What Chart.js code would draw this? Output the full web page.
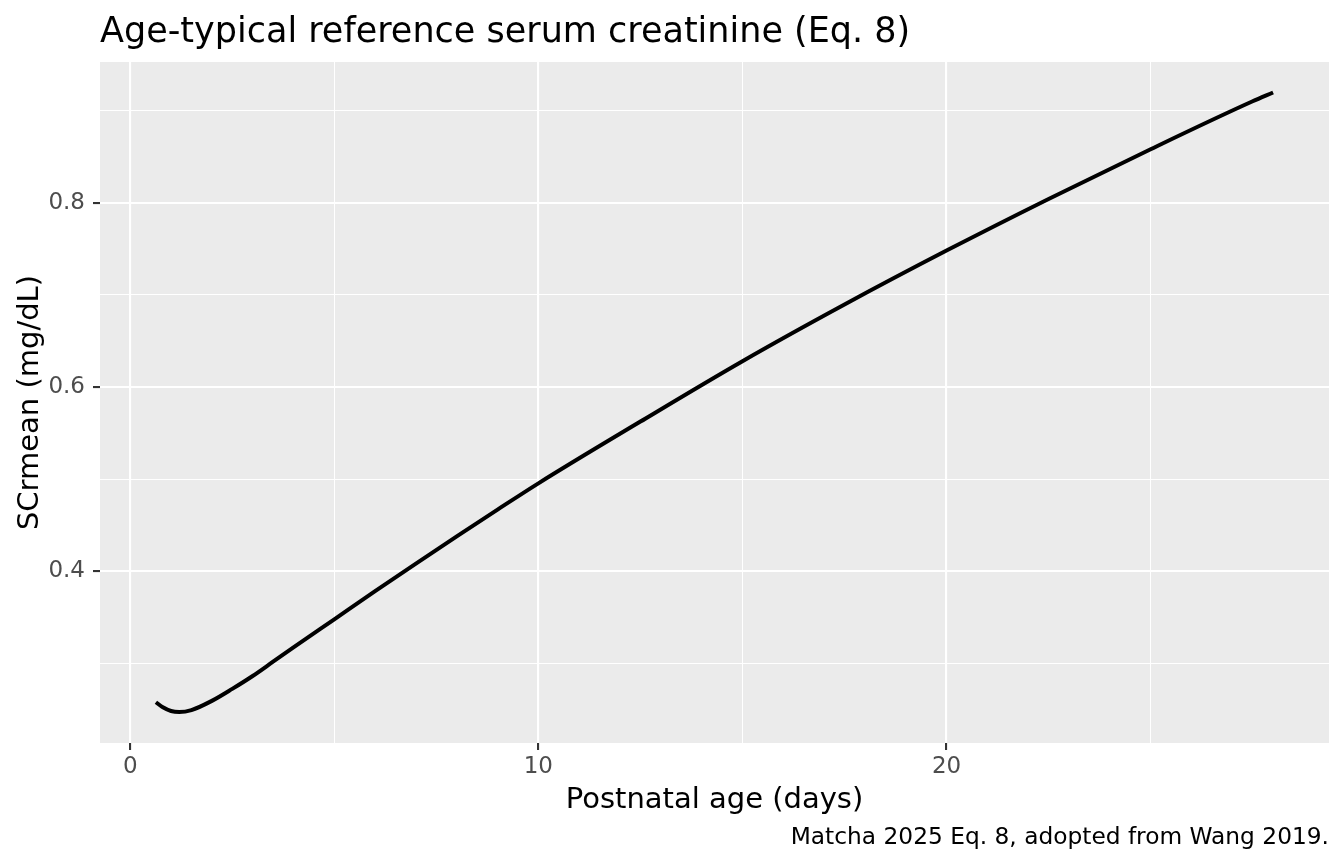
<!DOCTYPE html>
<html>
<head>
<meta charset="utf-8">
<title>Age-typical reference serum creatinine</title>
<script src="https://cdn.jsdelivr.net/npm/chart.js@4.4.1/dist/chart.umd.min.js"></script>
<style>
  html, body { margin: 0; padding: 0; background: #FFFFFF; }
  #wrap { width: 1344px; height: 864px; }
</style>
</head>
<body>
<div id="wrap"><canvas id="scrChart" width="1344" height="864"></canvas></div>
<script>
// values
var ageDays = [0.63, 0.8, 1.0, 1.2, 1.5, 2, 2.5, 3, 3.5, 4, 5, 6, 7, 8, 9, 10, 12.5, 15, 17.5, 20, 22.5, 25, 27.5, 28];
var scrMean = [0.258, 0.2525, 0.2485, 0.2474, 0.2495, 0.2595, 0.2725, 0.2865, 0.302, 0.3175, 0.348, 0.3785, 0.4085, 0.438, 0.467, 0.4955, 0.5625, 0.628, 0.6895, 0.748, 0.804, 0.858, 0.910, 0.9195];

var xTickValues = [0, 5, 10, 15, 20, 25];
var xTickLabels = ['0', '', '10', '', '20', ''];
var yTickValues = [0.3, 0.4, 0.5, 0.6, 0.7, 0.8, 0.9];
var yTickLabels = ['', '0.4', '', '0.6', '', '0.8', ''];
var xLimits = [-0.74, 29.37];
var yLimits = [0.2138, 0.9526];

var titleText = 'Age-typical reference serum creatinine (Eq. 8)';
var xTitle = 'Postnatal age (days)';
var yTitle = 'SCrmean (mg/dL)';
var captionText = 'Matcha 2025 Eq. 8, adopted from Wang 2019.';

var FONT = '"DejaVu Sans", "Liberation Sans", sans-serif';

// grey panel behind the grid, ggplot style
var panelBg = {
  id: 'panelBg',
  beforeDraw: function (chart) {
    var a = chart.chartArea, ctx = chart.ctx;
    ctx.save();
    ctx.fillStyle = '#EBEBEB';
    ctx.fillRect(a.left, a.top, a.right - a.left, a.bottom - a.top);
    ctx.restore();
  }
};

// title, axis titles and caption
var labels = {
  id: 'labels',
  afterDraw: function (chart) {
    var a = chart.chartArea, ctx = chart.ctx;
    ctx.save();
    ctx.fillStyle = '#000000';
    ctx.textBaseline = 'alphabetic';

    ctx.font = '35px ' + FONT;
    ctx.textAlign = 'left';
    ctx.fillText(titleText, a.left, 42);

    ctx.font = '29px ' + FONT;
    ctx.textAlign = 'center';
    ctx.fillText(xTitle, (a.left + a.right) / 2, 808);

    ctx.save();
    ctx.translate(38, (a.top + a.bottom) / 2);
    ctx.rotate(-Math.PI / 2);
    ctx.fillText(yTitle, 0, 0);
    ctx.restore();

    ctx.font = '23.3px ' + FONT;
    ctx.textAlign = 'right';
    ctx.fillText(captionText, a.right, 844);
    ctx.restore();
  }
};

function isMajor(list, i) { return list[i] !== undefined && list[i] !== ''; }

var points = ageDays.map(function (d, i) { return { x: d, y: scrMean[i] }; });

new Chart(document.getElementById('scrChart'), {
  type: 'line',
  data: {
    datasets: [{
      data: points,
      borderColor: '#000000',
      borderWidth: 4,
      borderCapStyle: 'butt',
      pointRadius: 0,
      fill: false,
      cubicInterpolationMode: 'monotone'
    }]
  },
  options: {
    responsive: false,
    animation: false,
    events: [],
    layout: { padding: { left: 0, right: 15, top: 62, bottom: 0 } },
    plugins: { legend: { display: false }, tooltip: { enabled: false }, title: { display: false } },
    scales: {
      x: {
        type: 'linear',
        min: xLimits[0], max: xLimits[1],
        afterBuildTicks: function (s) { s.ticks = xTickValues.map(function (v) { return { value: v }; }); },
        afterFit: function (s) { s.height = 121; },
        border: { display: false },
        grid: {
          color: '#FFFFFF',
          lineWidth: function (c) { return isMajor(xTickLabels, c.index) ? 2.1 : 1.05; },
          tickLength: 7,
          tickWidth: 2.1,
          tickColor: function (c) { return isMajor(xTickLabels, c.index) ? '#333333' : 'rgba(0,0,0,0)'; }
        },
        ticks: {
          autoSkip: false,
          maxRotation: 0,
          padding: 3,
          color: '#4D4D4D',
          font: { family: FONT, size: 23 },
          callback: function (v, i) { return xTickLabels[i]; }
        }
      },
      y: {
        type: 'linear',
        min: yLimits[0], max: yLimits[1],
        afterBuildTicks: function (s) { s.ticks = yTickValues.map(function (v) { return { value: v }; }); },
        afterFit: function (s) { s.width = 100; },
        border: { display: false },
        grid: {
          color: '#FFFFFF',
          lineWidth: function (c) { return isMajor(yTickLabels, c.index) ? 2.1 : 1.05; },
          tickLength: 7,
          tickWidth: 2.1,
          tickColor: function (c) { return isMajor(yTickLabels, c.index) ? '#333333' : 'rgba(0,0,0,0)'; }
        },
        ticks: {
          autoSkip: false,
          padding: 8,
          color: '#4D4D4D',
          font: { family: FONT, size: 23 },
          callback: function (v, i) { return yTickLabels[i]; }
        }
      }
    }
  },
  plugins: [panelBg, labels]
});
</script>
</body>
</html>
